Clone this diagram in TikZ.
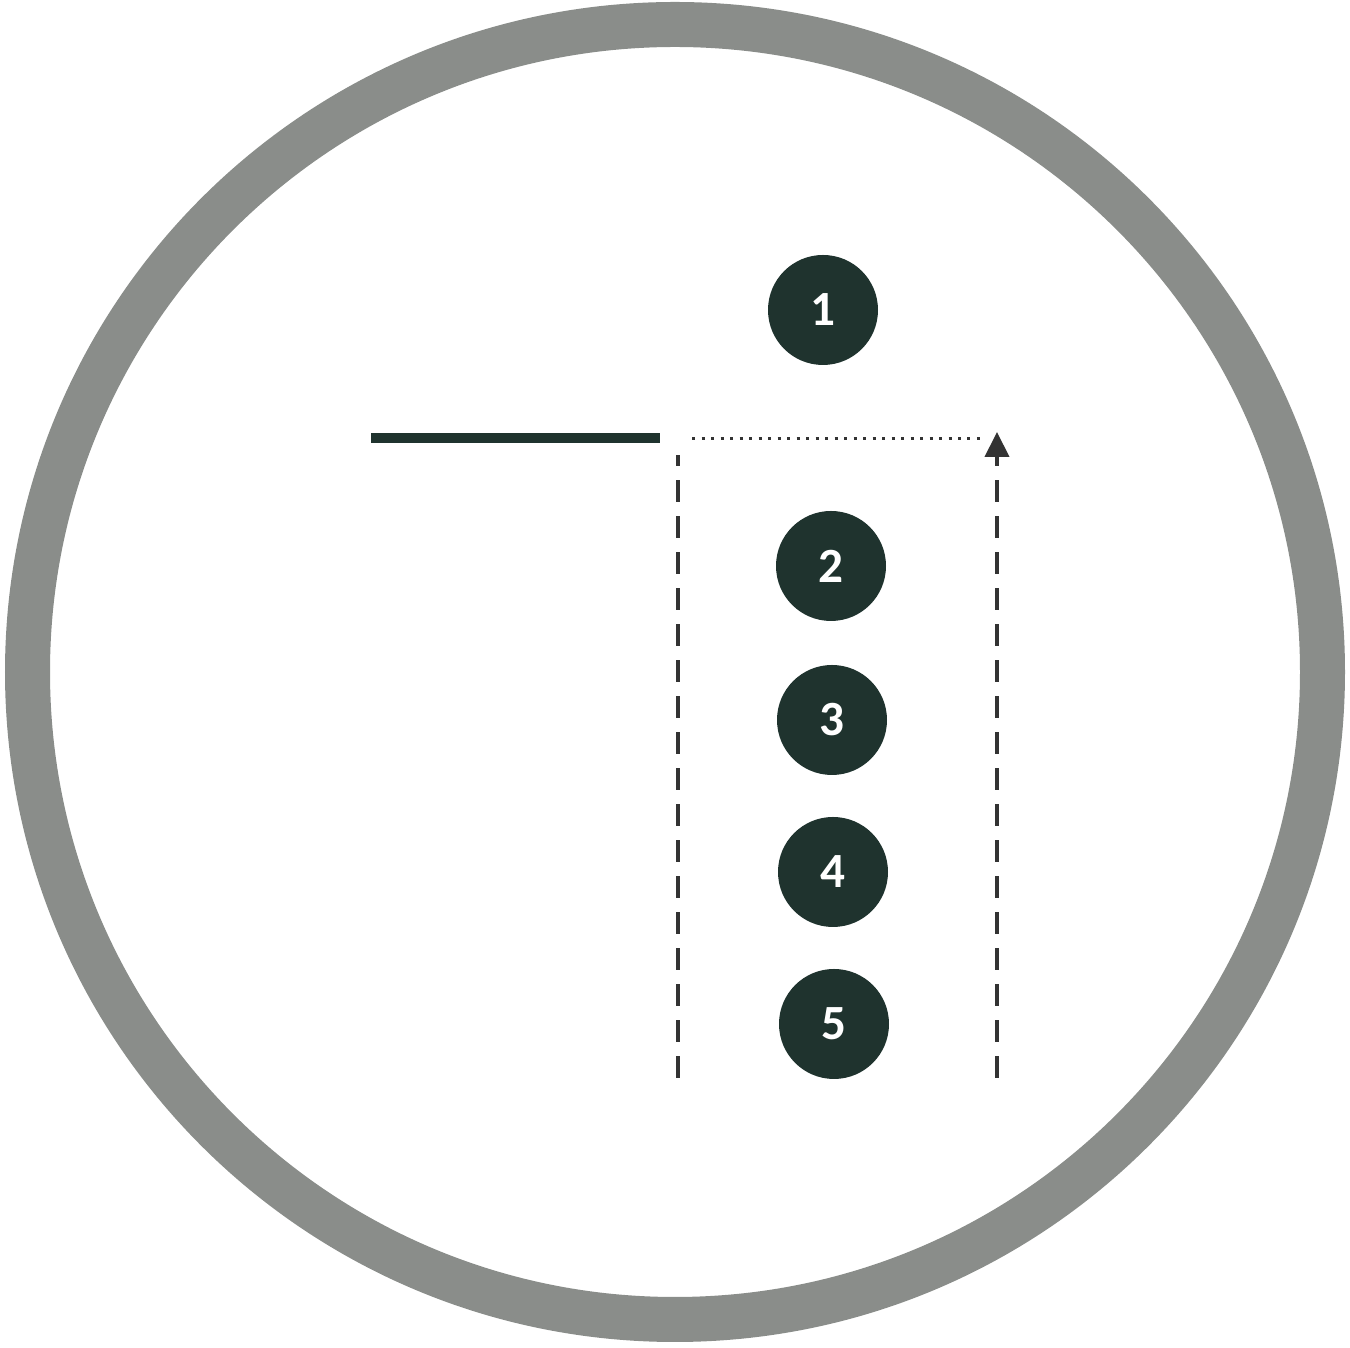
\documentclass[tikz,border=0pt]{standalone}
\usepackage{fontspec}
\setmainfont{Carlito}
\usepackage{xcolor}
\usepackage{tikz}
\usetikzlibrary{positioning, arrows.meta}
\definecolor{ringgray}{HTML}{8A8D8A}
\definecolor{dotgreen}{HTML}{1F332E}
\definecolor{linegray}{HTML}{333333}

\begin{document}
\begin{tikzpicture}[
  every node/.style={font=\fontsize{14}{14}\selectfont\bfseries},
  stepdot/.style={circle, fill=dotgreen, text=white, minimum size=11mm, inner sep=0pt},
  ring/.style={draw=ringgray, line width=4.5mm},
  bar/.style={line width=1mm, color=dotgreen},
  dotline/.style={line width=0.3mm, color=linegray, dash pattern=on 0.3mm off 0.65mm},
  dashline/.style={line width=0.4mm, color=linegray, dash pattern=on 2.2mm off 1.4mm},
  uparr/.style={dashline, -{Triangle[length=2.5mm, width=2.4mm]}},
]
\useasboundingbox (0,0) rectangle (13.5,13.48);
\draw[ring] (6.75, 6.76) circle (6.475);
% numbered steps
\node[stepdot] (s1) at (8.23, 10.38) {1};
\node[stepdot] (s2) at (8.31, 7.82) {2};
\node[stepdot] (s3) at (8.32, 6.28) {3};
\node[stepdot] (s4) at (8.33, 4.76) {4};
\node[stepdot] (s5) at (8.34, 3.24) {5};
% lines
\coordinate (barL) at (3.71, 9.10);
\coordinate (barR) at (6.60, 9.10);
\coordinate (dotL) at (6.92, 9.09);
\coordinate (dotR) at (9.85, 9.09);
\coordinate (dashT) at (6.78, 8.93);
\coordinate (dashB) at (6.78, 2.70);
\coordinate (arrB) at (9.97, 2.70);
\coordinate (arrT) at (9.97, 9.16);
\draw[bar] (barL) -- (barR);
\draw[dotline] (dotL) -- (dotR);
\draw[dashline] (dashB) -- (dashT);
\draw[uparr] (arrB) -- (arrT);
\end{tikzpicture}
\end{document}
